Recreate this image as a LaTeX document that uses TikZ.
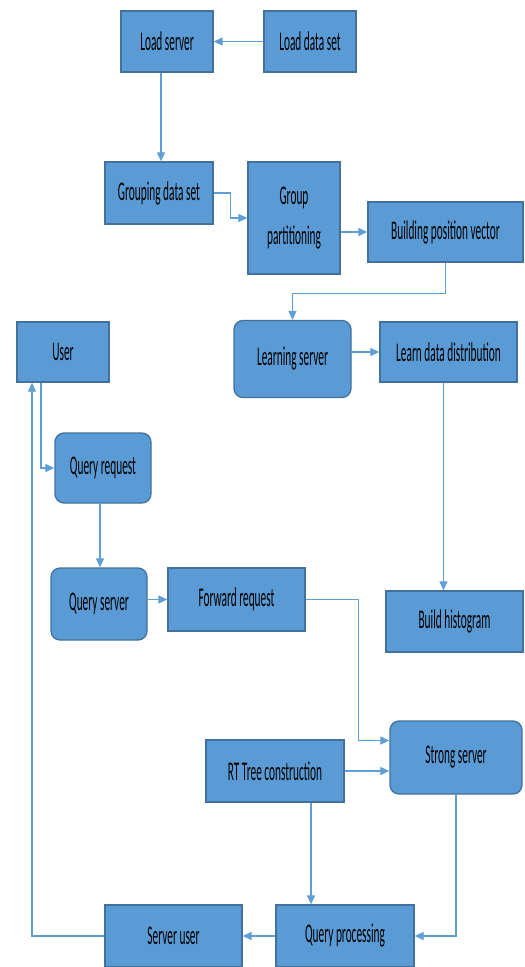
\documentclass[tikz,border=0pt]{standalone}
\usepackage{fontspec}
\newfontfamily\boxfont{Carlito}[FakeStretch=0.42]
\usetikzlibrary{arrows.meta}
\definecolor{boxfill}{RGB}{91,155,213}
\definecolor{boxline}{RGB}{65,113,156}
\definecolor{linkcol}{RGB}{95,158,215}

\begin{document}
\begin{tikzpicture}[x=1pt, y=-1pt,
    stage/.style={draw=boxline, line width=1.3pt, fill=boxfill, inner sep=0pt,
        align=center, font=\boxfont\fontsize{27}{40}\selectfont},
    srv/.style={stage, rounded corners=9pt},
    link/.style={draw=linkcol, line width=1.2pt, -{Triangle[length=9pt,width=8pt]}}]

    \useasboundingbox (0,0) rectangle (525,967);

    \node[stage, minimum width=92pt, minimum height=61pt] (lserver) at (167,41.5) {Load server};
    \node[stage, minimum width=92pt, minimum height=61pt] (ldset) at (310,41.5) {Load data set};
    \node[stage, minimum width=108pt, minimum height=62pt] (grp) at (159,193) {Grouping data set};
    \node[stage, minimum width=92pt, minimum height=112pt] (gpart) at (294,218) {Group\\partitioning};
    \node[stage, minimum width=155pt, minimum height=60pt] (bvec) at (445.5,232) {Building position vector};
    \node[srv, minimum width=117pt, minimum height=77pt] (learn) at (292.5,359) {Learning server};
    \node[stage, minimum width=137pt, minimum height=60pt] (ldist) at (448.5,352) {Learn data distribution};
    \node[stage, minimum width=137pt, minimum height=61pt] (hist) at (454.5,621.5) {Build histogram};

    \node[stage, minimum width=92pt, minimum height=60pt] (user) at (63,352) {User};
    \node[srv, minimum width=96pt, minimum height=70pt] (qreq) at (103,468) {Query request};
    \node[srv, minimum width=96pt, minimum height=72pt] (qsrv) at (99,604) {Query server};
    \node[stage, minimum width=137pt, minimum height=63pt] (fwd) at (236.5,599.5) {Forward request};
    \node[srv, minimum width=132pt, minimum height=73pt] (strong) at (456,757.5) {Strong server};
    \node[stage, minimum width=138pt, minimum height=62pt] (rt) at (275,771) {RT Tree construction};
    \node[stage, minimum width=138pt, minimum height=62pt] (qproc) at (345,936) {Query processing};
    \node[stage, minimum width=137pt, minimum height=62pt] (suser) at (173.5,936) {Server user};

    % building part
    \draw[link] (ldset) -- (lserver);
    \draw[link] ([xshift=-6pt]lserver.south) -- ([xshift=-6pt]lserver.south |- grp.north);
    \draw[link] (grp.east) -- ++(17,0) |- (gpart.west);
    \draw[link] (gpart.east |- bvec.west) -- (bvec.west);
    \draw[link] (bvec.south) -- ++(0,31) -| (learn.north);
    \draw[link] (learn.east |- ldist.west) -- (ldist.west);
    \draw[link] ([xshift=-5pt]ldist.south) -- ([xshift=-5pt]ldist.south |- hist.north);

    % query part
    \draw[link] ([xshift=-22pt]user.south) |- (qreq.west);
    \draw[link] ([xshift=-3pt]qreq.south) -- ([xshift=-3pt]qreq.south |- qsrv.north);
    \draw[link] (qsrv.east |- fwd.west) -- (fwd.west);
    \draw[link] (fwd.east) -- ++(53,0) |- ([yshift=17pt]strong.west);
    \draw[link] (rt.east) -- (rt.east -| strong.west);
    \draw[link] ([xshift=36pt]rt.south) -- ([xshift=36pt]rt.south |- qproc.north);
    \draw[link] (strong.south) |- (qproc.east);
    \draw[link] (qproc.west) -- (suser.east);
    \draw[link] (suser.west) -| ([xshift=-31pt]user.south);

\end{tikzpicture}
\end{document}
